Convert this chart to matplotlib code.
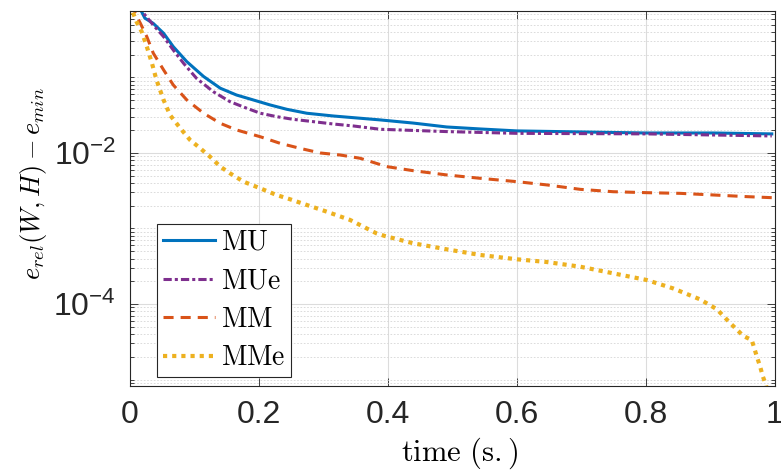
import matplotlib.pyplot as plt
import numpy as np

plt.rcParams['font.family'] = 'Liberation Sans'
plt.rcParams['mathtext.fontset'] = 'cm'

# convergence curves, time in seconds
t_mu = [0.015, 0.018, 0.023, 0.036, 0.052, 0.067, 0.088, 0.114, 0.140, 0.165, 0.191,
        0.217, 0.243, 0.274, 0.315, 0.388, 0.439, 0.491, 0.543, 0.600, 0.698, 0.800,
        0.904, 0.995]
e_mu = [0.95, 0.74, 0.61, 0.52, 0.385, 0.256, 0.162, 0.103, 0.072, 0.0586, 0.0504,
        0.0433, 0.0379, 0.0336, 0.0309, 0.0274, 0.0249, 0.0221, 0.0208, 0.0196, 0.0190,
        0.0184, 0.0184, 0.0179]

t_mue = [0.014, 0.021, 0.036, 0.052, 0.067, 0.083, 0.103, 0.129, 0.155, 0.181, 0.202,
         0.227, 0.253, 0.284, 0.315, 0.346, 0.388, 0.491, 0.600, 0.800, 0.995]
e_mue = [0.95, 0.708, 0.495, 0.347, 0.231, 0.154, 0.0975, 0.0649, 0.0478, 0.0391, 0.0336,
         0.0303, 0.0279, 0.0260, 0.0242, 0.0228, 0.0206, 0.0192, 0.0182, 0.0179, 0.0168]

t_mm = [0.004, 0.008, 0.016, 0.026, 0.036, 0.052, 0.067, 0.088, 0.114, 0.140, 0.165,
        0.202, 0.233, 0.264, 0.295, 0.326, 0.357, 0.398, 0.439, 0.491, 0.543, 0.600,
        0.647, 0.698, 0.749, 0.802, 0.853, 0.904, 0.957, 0.995]
e_mm = [0.95, 0.708, 0.522, 0.347, 0.210, 0.126, 0.0796, 0.0504, 0.0336, 0.0247, 0.0202,
        0.0164, 0.0134, 0.0115, 0.0100, 0.0094, 0.0085, 0.0066, 0.00583, 0.00512, 0.00462,
        0.00417, 0.00377, 0.00330, 0.00307, 0.00298, 0.00292, 0.00278, 0.00264, 0.00256]

t_mme = [0.002, 0.005, 0.010, 0.018, 0.026, 0.034, 0.041, 0.052, 0.062, 0.078, 0.093,
         0.109, 0.124, 0.140, 0.155, 0.176, 0.202, 0.227, 0.248, 0.274, 0.305, 0.341,
         0.382, 0.395, 0.439, 0.491, 0.543, 0.600, 0.646, 0.698, 0.749, 0.801, 0.842,
         0.884, 0.910, 0.930, 0.951, 0.964, 0.972, 0.977, 0.981, 0.986, 0.990]
e_mme = [0.95, 0.708, 0.548, 0.405, 0.256, 0.154, 0.0927, 0.0504, 0.0318, 0.0212, 0.0149,
         0.0115, 0.00893, 0.00659, 0.00538, 0.00417, 0.00340, 0.00278, 0.00244, 0.00205,
         0.00167, 0.00130, 0.000863, 0.000796, 0.000637, 0.000530, 0.000446, 0.000391,
         0.000360, 0.000312, 0.000255, 0.000208, 0.000161, 0.000115, 8.51e-5, 5.65e-5,
         3.77e-5, 3.33e-5, 2.0e-5, 1.48e-5, 1.11e-5, 8.45e-6, 6.0e-6]

fig = plt.figure(figsize=(7.81, 4.76), dpi=100)
ax = fig.add_axes([0.1665, 0.189, 0.8258, 0.788])

ax.semilogy(t_mu, e_mu, color=(0, 0.447, 0.741), lw=2.2, label=r'$\mathrm{MU}$')
ax.semilogy(t_mue, e_mue, color=(0.494, 0.184, 0.556), lw=2.2,
            linestyle=(0, (2.7, 1.0, 1.0, 1.0)), label=r'$\mathrm{MUe}$')
ax.semilogy(t_mm, e_mm, color=(0.85, 0.325, 0.098), lw=2.2,
            linestyle=(0, (3.3, 2.3)), label=r'$\mathrm{MM}$')
ax.semilogy(t_mme, e_mme, color=(0.929, 0.694, 0.125), lw=3.0,
            linestyle=(0, (1.0, 1.2)), dash_capstyle='butt', label=r'$\mathrm{MMe}$')

ax.set_xticks([0, 0.2, 0.4, 0.6, 0.8, 1])
ax.set_xticklabels(['0', '0.2', '0.4', '0.6', '0.8', '1'])
ax.set_yticks([1e-4, 1e-2])
ax.set_yticklabels([r'$\mathdefault{10^{-4}}$', r'$\mathdefault{10^{-2}}$'])
minor = [m * 10.0 ** k for k in range(-6, 1) for m in range(1, 10)]
minor = [v for v in minor if v not in (1e-4, 1e-2)]
ax.set_yticks(minor, minor=True)
ax.yaxis.set_minor_formatter(plt.NullFormatter())
# limits after the ticks, so the tick lists don't widen the view
ax.set_xlim(0, 1)
ax.set_ylim(8.2e-6, 0.76)

ax.tick_params(axis='both', which='both', direction='in', top=True, right=True,
               colors='#262626', width=0.6, labelsize=23, pad=10)
ax.tick_params(axis='both', which='major', length=6)
ax.tick_params(axis='y', which='minor', length=3)
for s in ax.spines.values():
    s.set_color('#262626')
    s.set_linewidth(0.8)

ax.grid(True, which='major', color='#dcdcdc', lw=0.8, linestyle='-')
ax.grid(True, which='minor', axis='y', color='#d6d6d6', lw=0.6, linestyle=(0, (2, 2)))
ax.set_axisbelow(True)

ax.set_xlabel(r'$\mathrm{time\ (s.)}$', fontsize=22)
ax.set_ylabel(r'$e_{rel}(W,H) - e_{min}$', fontsize=19)
ax.yaxis.set_label_coords(-0.125, 0.54)
ax.xaxis.set_label_coords(0.51, -0.133)

leg = ax.legend(loc='lower left', bbox_to_anchor=(0.042, 0.024), borderaxespad=0,
                fontsize=20, handlelength=1.9, handletextpad=0.2, labelspacing=0.45,
                borderpad=0.2, fancybox=False, framealpha=1)
leg.get_frame().set_edgecolor('#262626')
leg.get_frame().set_linewidth(0.8)

fig.savefig('out.png', dpi=100)
